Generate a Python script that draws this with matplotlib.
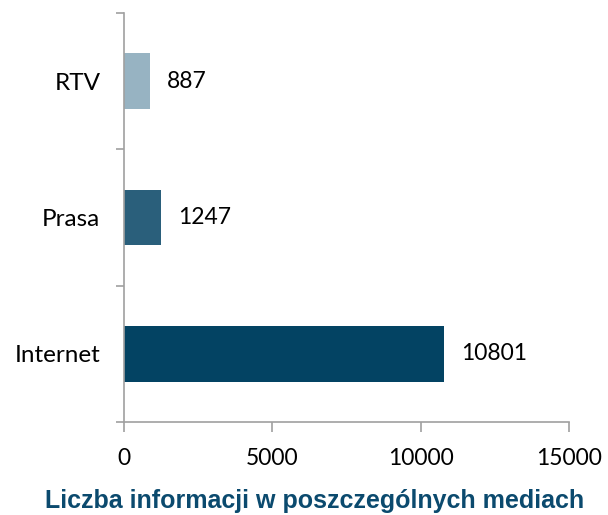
import matplotlib.pyplot as plt
import numpy as np

plt.rcParams['font.family'] = 'Lato'

categories = ['Internet', 'Prasa', 'RTV']
values = [10801, 1247, 887]
bar_colors = ['#034363', '#2A5F7B', '#97B3C2']
x_ticks = [0, 5000, 10000, 15000]

fig = plt.figure(figsize=[6.08, 5.15], dpi=100)
ax = fig.add_axes([124/608, 1 - 422/515, (569 - 124)/608, (422 - 13)/515])

pos = np.arange(len(categories))
ax.barh(pos, values, height=0.41, color=bar_colors)

# value labels to the right of each bar
for p, v in zip(pos, values):
    ax.annotate(str(v), (v, p), xytext=(12, 0), textcoords='offset points',
                va='center', ha='left', fontsize=16.5, color='black')

ax.set_xlim(0, 15000)
ax.set_ylim(-0.5, 2.5)
ax.set_xticks(x_ticks)
ax.set_xticklabels([str(t) for t in x_ticks], fontsize=16.5)
ax.set_yticks(pos)
ax.set_yticklabels(categories, fontsize=17.5)
ax.set_yticks([-0.5, 0.5, 1.5, 2.5], minor=True)
ax.tick_params(axis='y', which='major', length=0, pad=17)
ax.tick_params(axis='y', which='minor', length=6, color='#A0A0A0', width=1.2)
ax.tick_params(axis='x', length=7, color='#A0A0A0', width=1.2, pad=12)

for side in ['top', 'right']:
    ax.spines[side].set_visible(False)
for side in ['left', 'bottom']:
    ax.spines[side].set_color('#A0A0A0')
    ax.spines[side].set_linewidth(1.2)

fig.text(315/608, 1 - 501/515, 'Liczba informacji w poszczególnych mediach',
         ha='center', va='center', fontsize=18, fontweight='bold',
         color='#0B4A6E', family='Liberation Sans')

plt.savefig('out.png', dpi=100)
